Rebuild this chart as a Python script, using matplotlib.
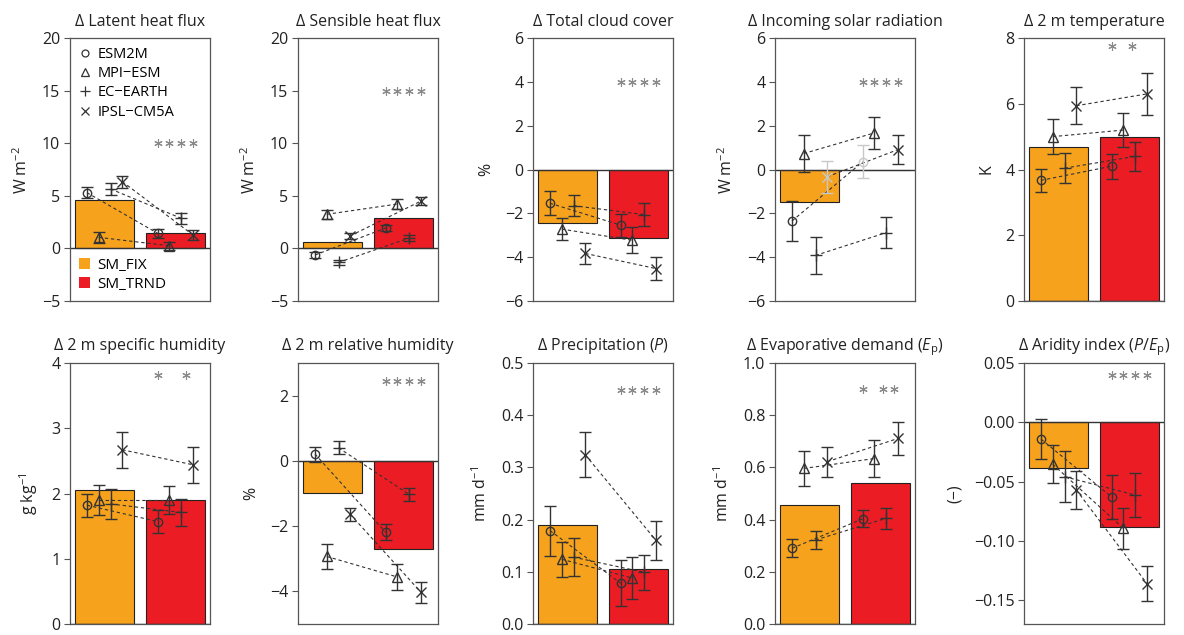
import matplotlib
matplotlib.use('Agg')
import matplotlib.pyplot as plt
from matplotlib.lines import Line2D
from matplotlib.patches import Patch
import numpy as np

plt.rcParams['font.family'] = ['Open Sans', 'DejaVu Sans']
plt.rcParams['mathtext.fontset'] = 'custom'
plt.rcParams['mathtext.rm'] = 'Open Sans'
plt.rcParams['mathtext.it'] = 'Open Sans:italic'

models = ['ESM2M', 'MPI\u2212ESM', 'EC\u2212EARTH', 'IPSL\u2212CM5A']
runs = ['SM_FIX', 'SM_TRND']

titles = ['\u0394 Latent heat flux', '\u0394 Sensible heat flux', '\u0394 Total cloud cover',
          '\u0394 Incoming solar radiation', '\u0394 2 m temperature',
          '\u0394 2 m specific humidity', '\u0394 2 m relative humidity',
          '\u0394 Precipitation ($P$)', '\u0394 Evaporative demand ($E_\\mathrm{p}$)',
          '\u0394 Aridity index ($P/E_\\mathrm{p}$)']
ylabels = ['W m$^{-2}$', 'W m$^{-2}$', '%', 'W m$^{-2}$', 'K',
           'g kg$^{-1}$', '%', 'mm d$^{-1}$', 'mm d$^{-1}$', '(\u2212)']

# multi-model mean bars
bar_fix = [4.57, 0.57, -2.45, -1.48, 4.67, 2.05, -0.99, 0.189, 0.456, -0.0384]
bar_trnd = [1.43, 2.86, -3.14, 0.0, 5.0, 1.9, -2.71, 0.105, 0.539, -0.0879]

# single models: ESM2M, MPI-ESM, EC-EARTH, IPSL-CM5A
fix_val = [[5.3, 1.05, 5.65, 6.35],
           [-0.63, 3.24, -1.33, 1.2],
           [-1.54, -2.72, -1.65, -3.83],
           [-2.35, 0.73, -3.92, -0.33],
           [3.67, 5.0, 4.04, 5.94],
           [1.82, 1.9, 1.84, 2.67],
           [0.21, -2.93, 0.4, -1.64],
           [0.179, 0.124, 0.128, 0.324],
           [0.29, 0.596, 0.322, 0.622],
           [-0.0141, -0.0353, -0.0458, -0.057]]
fix_err = [[0.55, 0.5, 0.6, 0.57],
           [0.3, 0.45, 0.25, 0.3],
           [0.54, 0.5, 0.48, 0.47],
           [0.89, 0.83, 0.84, 0.73],
           [0.35, 0.53, 0.45, 0.56],
           [0.18, 0.23, 0.23, 0.28],
           [0.23, 0.37, 0.2, 0.21],
           [0.048, 0.034, 0.037, 0.043],
           [0.034, 0.067, 0.034, 0.057],
           [0.0165, 0.0158, 0.0217, 0.016]]
trnd_val = [[1.43, 0.25, 2.86, 1.27],
            [1.94, 4.22, 0.98, 4.5],
            [-2.54, -3.23, -2.06, -4.52],
            [0.35, 1.67, -2.88, 0.91],
            [4.1, 5.2, 4.4, 6.3],
            [1.57, 1.9, 1.71, 2.44],
            [-2.19, -3.56, -1.03, -4.03],
            [0.078, 0.088, 0.099, 0.16],
            [0.403, 0.634, 0.405, 0.711],
            [-0.063, -0.0895, -0.0613, -0.136]]
trnd_err = [[0.4, 0.4, 0.5, 0.45],
            [0.3, 0.5, 0.25, 0.4],
            [0.52, 0.6, 0.52, 0.52],
            [0.75, 0.73, 0.72, 0.68],
            [0.38, 0.51, 0.44, 0.63],
            [0.18, 0.22, 0.21, 0.28],
            [0.24, 0.41, 0.2, 0.33],
            [0.044, 0.041, 0.034, 0.037],
            [0.033, 0.07, 0.04, 0.064],
            [0.0186, 0.0174, 0.0184, 0.015]]

# points drawn faded (panel, run, model)
faded = [(3, 0, 3), (3, 1, 0)]

stars = ['****', '****', '****', '****', '* *', '*  *', '****', '****', '* **', '****']
star_y = [10, 15, 4, 4, 7.77, 3.81, 2.45, 0.448, 0.9, 0.04]

ylims = [(-5, 20), (-5, 20), (-6, 6), (-6, 6), (0, 8),
         (0, 4), (-5, 3), (0, 0.5), (0, 1.0), (-0.17, 0.05)]
yticks = [np.arange(-5, 21, 5), np.arange(-5, 21, 5), np.arange(-6, 7, 2), np.arange(-6, 7, 2),
          np.arange(0, 9, 2), np.arange(0, 5, 1), np.arange(-4, 3, 2),
          np.arange(0, 0.51, 0.1), np.arange(0, 1.01, 0.2), np.arange(-0.15, 0.051, 0.05)]
tickfmt = ['%d', '%d', '%d', '%d', '%d', '%d', '%d', '%.1f', '%.1f', '%.2f']

markers = ['o', '^', '+', 'x']
msizes = [6, 7, 8, 6.5]
bar_colors = ['#F6A21D', '#EC1C24']
dark = '#333333'
light = '#c8c8c8'


def make_fmt(f):
    def _fmt(v, pos):
        s = f % v
        if s.lstrip('-').strip('0.') == '':
            s = s.lstrip('-')
        return s.replace('-', '\u2212')
    return matplotlib.ticker.FuncFormatter(_fmt)


fig = plt.figure(figsize=(11.84, 6.35), dpi=100)
lefts = [70, 298, 533, 775, 1024]
W, H = 1184., 635.

centers = [0.7, 1.9]
offs = [-0.3, -0.1, 0.1, 0.3]

for i in range(10):
    r, c = divmod(i, 5)
    top = 38 if r == 0 else 363
    bot = 301 if r == 0 else 624
    ax = fig.add_axes([lefts[c] / W, 1 - bot / H, 140 / W, (bot - top) / H])

    ax.bar(centers, [bar_fix[i], bar_trnd[i]], width=1.0, color=bar_colors,
           edgecolor='#222222', linewidth=0.8, zorder=1)
    ax.axhline(0, color=dark, lw=1.0, zorder=2)

    for m in range(4):
        x0 = centers[0] + offs[m]
        x1 = centers[1] + offs[m]
        ax.plot([x0, x1], [fix_val[i][m], trnd_val[i][m]], ls=(0, (3, 2.5)),
                color=dark, lw=0.8, zorder=3)
        for k, (xv, yv, ev) in enumerate([(x0, fix_val[i][m], fix_err[i][m]),
                                          (x1, trnd_val[i][m], trnd_err[i][m])]):
            col = light if (i, k, m) in faded else dark
            ax.errorbar(xv, yv, yerr=ev, fmt='none', ecolor=col, elinewidth=1.0,
                        capsize=4.2, capthick=1.0, zorder=4)
            ax.plot(xv, yv, marker=markers[m], ms=msizes[m], mfc='none', mec=col,
                    mew=1.0, ls='none', zorder=5)

    # significance asterisks
    xs = []
    xp = 1.6
    for ch in stars[i]:
        if ch == '*':
            xs.append(xp)
            xp += 0.2
        else:
            xp += 0.14
    ax.plot(xs, [star_y[i]] * len(xs), ls='none', marker=(6, 2, 0), ms=6,
            mew=0.8, color='#8a8a8a', zorder=5)

    ax.set_xlim(0.112, 2.488)
    ax.set_ylim(*ylims[i])
    ax.set_yticks(yticks[i])
    ax.yaxis.set_major_formatter(make_fmt(tickfmt[i]))
    ax.set_xticks([])
    ax.tick_params(axis='y', length=4, width=0.8, color='#555555', labelsize=11.5,
                   labelcolor='#222222', pad=3)
    for s in ax.spines.values():
        s.set_color('#555555')
        s.set_linewidth(0.9)
    ax.set_title(titles[i], fontsize=11.5, color='#222222', pad=9)
    ax.set_ylabel(ylabels[i], fontsize=11.5, color='#222222', labelpad=8)

    if i == 0:
        h1 = [Line2D([], [], marker=markers[m], ms=msizes[m] - 1, mfc='none', mec=dark,
                     mew=0.9, ls='none') for m in range(4)]
        leg1 = ax.legend(h1, models, loc='upper left', frameon=False, fontsize=10.5,
                         handlelength=0.8, handletextpad=0.5, labelspacing=0.3,
                         borderaxespad=0.3, borderpad=0.3)
        ax.add_artist(leg1)
        h2 = [Patch(facecolor=bar_colors[k], edgecolor='none') for k in range(2)]
        ax.legend(h2, runs, loc='lower left', frameon=False, fontsize=11,
                  handlelength=0.7, handleheight=0.7, handletextpad=0.5,
                  labelspacing=0.25, borderaxespad=0.3, borderpad=0.3)

fig.savefig('out.png', dpi=100)
